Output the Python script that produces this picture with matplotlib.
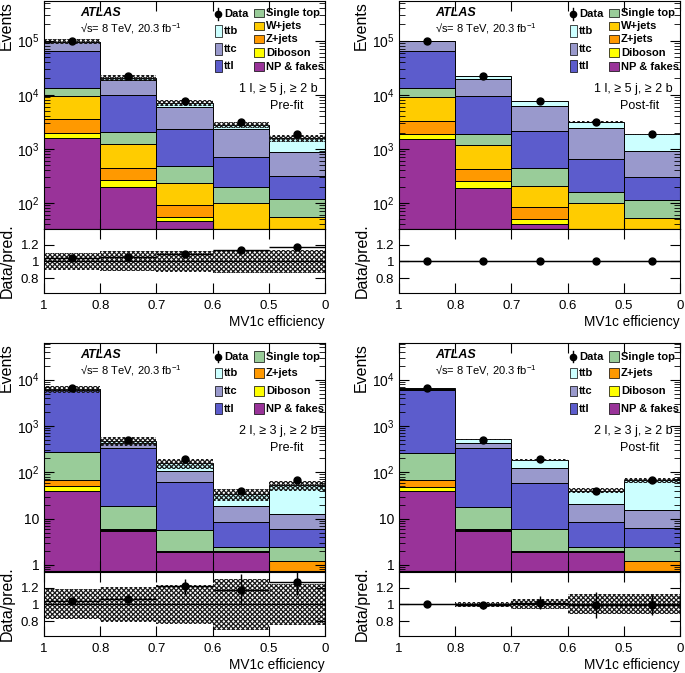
# Import modules
import numpy as np
import matplotlib.pyplot as plt
import matplotlib.ticker as mticker
from matplotlib.patches import Rectangle

plt.rcParams["font.family"] = ["Liberation Sans", "DejaVu Sans"]
plt.rcParams["mathtext.fontset"] = "custom"
plt.rcParams["mathtext.rm"] = "Liberation Sans"
plt.rcParams["mathtext.it"] = "Liberation Sans:italic"
plt.rcParams["mathtext.bf"] = "Liberation Sans:bold"
plt.rcParams["hatch.linewidth"] = 0.9

# Bin labels (MV1c efficiency working points)
bin_labels = ["1", "0.8", "0.7", "0.6", "0.5", "0"]

# Stack order from bottom to top
samples = ["NP & fakes", "Diboson", "Z+jets", "W+jets", "Single top", "ttl", "ttc", "ttb"]
colors = {
    "ttb": "#ccffff",
    "ttc": "#9999cc",
    "ttl": "#5c5ccc",
    "Single top": "#99cc99",
    "W+jets": "#ffcc00",
    "Z+jets": "#ff9900",
    "Diboson": "#ffff00",
    "NP & fakes": "#993399",
}

# 1 lepton, >= 5 jets, >= 2 b
data_1l = [100000, 22000, 7600, 3200, 1850]
data_err_1l = [316, 148, 87, 57, 43]

stack_1l_pre = {
    "NP & fakes": [1600, 200, 46, 5, 3],
    "Diboson": [400, 60, 10, 4, 2],
    "Z+jets": [1500, 180, 34, 15, 10],
    "W+jets": [5900, 810, 140, 74, 39],
    "Single top": [4000, 790, 250, 96, 64],
    "ttl": [50600, 8000, 1870, 526, 192],
    "ttc": [30000, 9000, 3600, 1580, 580],
    "ttb": [2000, 1760, 1050, 500, 690],
}
unc_1l_pre = [0.10, 0.12, 0.125, 0.14, 0.135]

stack_1l_post = {
    "NP & fakes": [1500, 190, 40, 5, 3],
    "Diboson": [400, 60, 10, 4, 2],
    "Z+jets": [1400, 170, 35, 15, 10],
    "W+jets": [5700, 780, 125, 76, 37],
    "Single top": [4300, 700, 240, 60, 63],
    "ttl": [49700, 7600, 1650, 500, 185],
    "ttc": [35000, 10000, 4000, 1740, 600],
    "ttb": [2000, 2500, 1500, 800, 950],
}
unc_1l_post = [0.002, 0.003, 0.005, 0.01, 0.01]

# 2 leptons, >= 3 jets, >= 2 b
data_2l = [6600, 510, 190, 40, 67]
data_err_2l = [81, 23, 14, 6.3, 8.2]

stack_2l_pre = {
    "NP & fakes": [39, 5.5, 1.87, 1.87, 0.2],
    "Diboson": [11, 0.1, 0.03, 0.03, 0.05],
    "Z+jets": [19, 0.4, 0.1, 0.1, 0.95],
    "Single top": [205, 13, 3.7, 0.5, 1.2],
    "ttl": [5600, 321, 56, 6.1, 3.7],
    "ttc": [350, 90, 45, 10, 6.8],
    "ttb": [126, 51, 49, 15.4, 40],
}
unc_2l_pre = [0.18, 0.215, 0.23, 0.31, 0.25]

stack_2l_post = {
    "NP & fakes": [39, 5.5, 1.87, 1.87, 0.2],
    "Diboson": [10, 0.1, 0.03, 0.03, 0.05],
    "Z+jets": [18, 0.5, 0.1, 0.1, 0.95],
    "Single top": [200, 12, 3.9, 0.5, 1.3],
    "ttl": [5733, 312, 53, 6.1, 3.7],
    "ttc": [450, 100, 65, 12.4, 9],
    "ttb": [150, 85, 62, 19.4, 52.5],
}
unc_2l_post = [0.005, 0.03, 0.06, 0.12, 0.12]


edges = np.arange(len(bin_labels))
centers = edges[:-1] + 0.5


def step(v):
    v = np.asarray(v, dtype=float)
    return np.append(v, v[-1])


def log_label(v, pos):
    e = int(round(np.log10(v)))
    if e == 0:
        return "1"
    if e == 1:
        return "10"
    return f"$10^{{{e}}}$"


def draw_legend(ax, names, two_lepton):
    # left column: data + ttbar components, right column: backgrounds
    xl, wl = 0.608, 0.025
    xr, wr = 0.747, 0.036
    fs = 8
    if two_lepton:
        ys_left = [0.94, 0.869, 0.79, 0.712]
        ys_right = ys_left
        hl, hr = 0.047, 0.047
    else:
        ys_left = [0.943, 0.869, 0.79, 0.716]
        ys_right = [0.948, 0.891, 0.834, 0.773, 0.712]
        hl, hr = 0.052, 0.038
    # data entry
    y0 = ys_left[0]
    ax.plot([xl + 0.011], [y0], "o", color="black", ms=4.5, transform=ax.transAxes, clip_on=False)
    ax.plot([xl + 0.011] * 2, [y0 - 0.025, y0 + 0.025], color="black", lw=1, transform=ax.transAxes)
    ax.text(xl + 0.035, y0, "Data", transform=ax.transAxes, va="center", fontsize=fs, fontweight="bold")
    for name, y in zip(["ttb", "ttc", "ttl"], ys_left[1:]):
        ax.add_patch(Rectangle((xl, y - hl / 2), wl, hl, transform=ax.transAxes,
                               facecolor=colors[name], edgecolor="black", lw=0.5))
        ax.text(xl + wl + 0.008, y, name, transform=ax.transAxes, va="center", fontsize=fs, fontweight="bold")
    right = [n for n in ["Single top", "W+jets", "Z+jets", "Diboson", "NP & fakes"] if n in names]
    for name, y in zip(right, ys_right):
        ax.add_patch(Rectangle((xr, y - hr / 2), wr, hr, transform=ax.transAxes,
                               facecolor=colors[name], edgecolor="black", lw=0.5))
        ax.text(xr + wr + 0.007, y, name, transform=ax.transAxes, va="center", fontsize=fs, fontweight="bold")


def draw_panel(ax, rax, stack, data, data_err, unc, ylim, region, fit, two_lepton):
    ax.set_yscale("log")
    bottom = np.zeros(len(centers))
    for name in samples:
        if name not in stack:
            continue
        vals = np.array(stack[name], dtype=float)
        ax.bar(edges[:-1], vals, width=1, bottom=bottom, align="edge",
               color=colors[name], edgecolor="black", linewidth=0.7)
        bottom = bottom + vals
    total = bottom
    unc = np.array(unc)
    data = np.array(data, dtype=float)
    data_err = np.array(data_err, dtype=float)

    # total uncertainty band
    ax.fill_between(edges, step(total * (1 - unc)), step(total * (1 + unc)), step="post",
                    facecolor="none", edgecolor="#1a1a1a", hatch="xxxxxxx", linewidth=0)
    ax.errorbar(centers, data, yerr=data_err, fmt="o", color="black", ms=5, elinewidth=1, capsize=0)

    ax.set_xlim(edges[0], edges[-1])
    ax.set_ylim(*ylim)
    ax.set_xticks(edges)
    ax.set_xticklabels([])
    ax.yaxis.set_major_locator(mticker.LogLocator(base=10, numticks=12))
    ax.yaxis.set_minor_locator(mticker.LogLocator(base=10, subs=np.arange(2, 10), numticks=12))
    ax.yaxis.set_major_formatter(mticker.FuncFormatter(log_label))
    ax.yaxis.set_minor_formatter(mticker.NullFormatter())
    ax.tick_params(which="both", direction="in", top=True, right=True, labelsize=10)
    ax.tick_params(which="major", length=7)
    ax.tick_params(which="minor", length=4)
    ax.set_ylabel("Events", loc="top", fontsize=11.5, labelpad=2)

    ax.text(0.128, 0.948, "ATLAS", transform=ax.transAxes, fontsize=9,
            fontweight="bold", style="italic", va="center")
    ax.text(0.128, 0.88, "\u221as= 8 TeV, 20.3 fb$^{-1}$", transform=ax.transAxes,
            fontsize=8, va="center")
    ax.text(0.975, 0.616, region, transform=ax.transAxes, fontsize=9, ha="right", va="center")
    ax.text(0.925, 0.54, fit, transform=ax.transAxes, fontsize=9, ha="right", va="center")
    draw_legend(ax, list(stack.keys()), two_lepton)

    # ratio panel
    ratio = data / total
    rax.fill_between(edges, step(1 - unc), step(1 + unc), step="post",
                     facecolor="none", edgecolor="#1a1a1a", hatch="xxxxxxx", linewidth=0)
    rax.axhline(1, color="black", lw=0.8)
    rax.errorbar(centers, ratio, yerr=data_err / total, xerr=0.5, fmt="o", color="black",
                 ms=5, elinewidth=1, capsize=0)
    rax.set_xlim(edges[0], edges[-1])
    rax.set_ylim(0.62, 1.39)
    rax.set_xticks(edges)
    rax.set_xticklabels(bin_labels)
    rax.set_yticks([0.8, 1.0, 1.2])
    rax.set_yticklabels(["0.8", "1", "1.2"])
    rax.tick_params(which="both", direction="in", top=True, right=True, labelsize=9.5)
    rax.tick_params(which="major", length=7)
    rax.tick_params(axis="x", pad=5)
    rax.set_ylabel("Data/pred.", fontsize=11.5, labelpad=4)
    rax.set_xlabel("MV1c efficiency", loc="right", fontsize=9.8, labelpad=2)


fig = plt.figure(figsize=(6.85, 6.73), dpi=100)
W = 281 / 685
H_main = 228 / 673
H_ratio = 64 / 673
lefts = [44 / 685, 399 / 685]

panels = [
    (0, 1 - 229 / 673, 1 - 293 / 673, stack_1l_pre, data_1l, data_err_1l, unc_1l_pre,
     (33, 5.4e5), "1 l, \u2265 5 j, \u2265 2 b", "Pre-fit", False),
    (1, 1 - 229 / 673, 1 - 293 / 673, stack_1l_post, data_1l, data_err_1l, unc_1l_post,
     (33, 5.4e5), "1 l, \u2265 5 j, \u2265 2 b", "Post-fit", False),
    (0, 1 - 571 / 673, 1 - 636 / 673, stack_2l_pre, data_2l, data_err_2l, unc_2l_pre,
     (0.74, 6.2e4), "2 l, \u2265 3 j, \u2265 2 b", "Pre-fit", True),
    (1, 1 - 571 / 673, 1 - 636 / 673, stack_2l_post, data_2l, data_err_2l, unc_2l_post,
     (0.74, 6.2e4), "2 l, \u2265 3 j, \u2265 2 b", "Post-fit", True),
]

for col, ymain, yratio, stack, data, derr, unc, ylim, region, fit, two_l in panels:
    ax = fig.add_axes([lefts[col], ymain, W, H_main])
    rax = fig.add_axes([lefts[col], yratio, W, H_ratio])
    draw_panel(ax, rax, stack, data, derr, unc, ylim, region, fit, two_l)

fig.savefig("out.png", dpi=100)
